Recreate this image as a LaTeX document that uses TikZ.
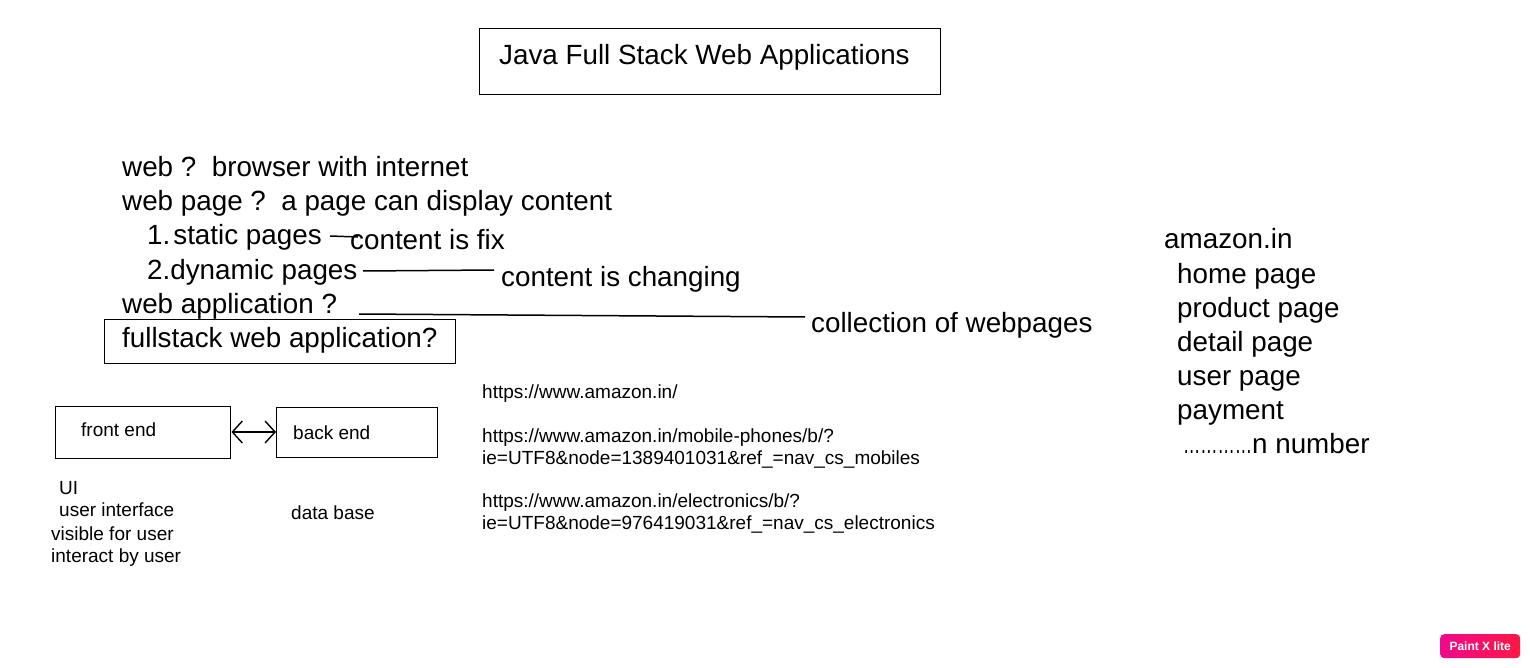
\documentclass[tikz,border=0pt]{standalone}
\usepackage{fontspec}
\setmainfont{Liberation Sans}
\usetikzlibrary{arrows.meta}
\definecolor{badgeL}{HTML}{EE0A8C}
\definecolor{badgeR}{HTML}{FF1744}
\tikzset{
  big/.style={inner sep=0pt, anchor=base west, font=\fontsize{27.8}{33}\selectfont},
  small/.style={inner sep=0pt, anchor=base west, font=\fontsize{19}{22}\selectfont},
  box/.style={draw, line width=1.4pt},
  conn/.style={line width=1.5pt},
}
\begin{document}
\begin{tikzpicture}[x=1pt,y=-1pt]
\useasboundingbox (0,0) rectangle (1530,668);
% title
\node[box, minimum width=461pt, minimum height=66pt, anchor=north west] (titlebox) at (479,28) {};
\node[big] (title) at (499,65) {Java Full Stack Web Applications};
% questions
\node[big] (q1) at (122,177) {web ?\ \ browser with internet};
\node[big] (q2) at (122,211) {web page ?\ \ a page can display content};
\node[big] (q3) at (147,245) {1.\hspace{3pt}static pages};
\node[big] (q4) at (147,279) {2.dynamic pages};
\node[big] (q5) at (122,313) {web application ?};
\node[box, minimum width=351pt, minimum height=44pt, anchor=north west] (fsbox) at (104,319) {};
\node[big] (q6) at (122,347) {fullstack web application?};
% answers
\node[big] (a1) at (350,250) {content is fix};
\node[big] (a2) at (501,287) {content is changing};
\node[big] (a3) at (811,332) {collection of webpages};
\coordinate (l1s) at (330,236);
\coordinate (l1e) at (358,237);
\coordinate (l2s) at (363,271);
\coordinate (l2e) at (494,270);
\coordinate (l3s) at (359,314);
\coordinate (l3e) at (805,317);
\draw[conn] (l1s) -- (l1e);
\draw[conn] (l2s) -- (l2e);
\draw[conn] (l3s) -- (l3e);
% front/back
\node[box, minimum width=175pt, minimum height=52pt, anchor=north west] (fe) at (55,406) {};
\node[small] (fet) at (81,436) {front end};
\node[box, minimum width=161pt, minimum height=50pt, anchor=north west] (be) at (276,407) {};
\node[small] (bet) at (293,439) {back end};
\draw[conn, {Straight Barb[length=10pt,width=22pt,line width=1.4pt]}-{Straight Barb[length=10pt,width=22pt,line width=1.4pt]}] (fe.east |- 0,432) -- (be.west |- 0,432);
\node[small] (ui1) at (59,494) {UI};
\node[small] (ui2) at (59,516) {user interface};
\node[small] (ui3) at (51,540) {visible for user};
\node[small] (ui4) at (51,562) {interact by user};
\node[small] (db) at (291,519) {data base};
% urls
\node[small] (u1) at (482,398) {https://www.amazon.in/};
\node[small] (u2) at (482,442) {https://www.amazon.in/mobile-phones/b/?};
\node[small] (u3) at (482,464) {ie=UTF8\&node=1389401031\&ref\_=nav\_cs\_mobiles};
\node[small] (u4) at (482,507) {https://www.amazon.in/electronics/b/?};
\node[small] (u5) at (482,529) {ie=UTF8\&node=976419031\&ref\_=nav\_cs\_electronics};
% amazon
\node[big] (am0) at (1164,249) {amazon.in};
\node[big] (am1) at (1177,283) {home page};
\node[big] (am2) at (1177,317) {product page};
\node[big] (am3) at (1177,351) {detail page};
\node[big] (am4) at (1177,385) {user page};
\node[big] (am5) at (1177,419) {payment};
\node[big] (am6) at (1183,453) {\scalebox{0.62}[1]{…………}n number};
% badge
\node[anchor=north west, minimum width=80pt, minimum height=24pt, inner sep=0pt, rounded corners=4pt, left color=badgeL, right color=badgeR, text=white, font=\fontsize{12}{13}\selectfont\bfseries] (badge) at (1440,634) {Paint X lite};
\end{tikzpicture}
\end{document}
